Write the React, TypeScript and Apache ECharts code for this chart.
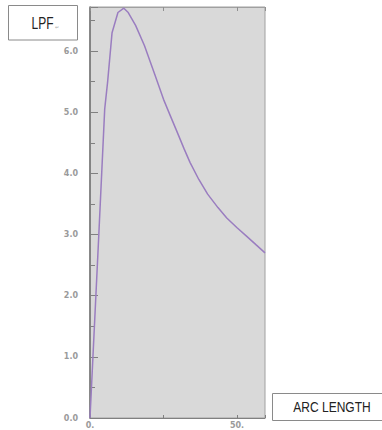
import React, { useEffect, useRef } from "react";
import * as echarts from "echarts";

const arcLength = [0, 1, 3, 5, 6, 7.5, 9.5, 11.5, 13, 15.5, 18.5, 22, 25, 27.5, 29.5, 32, 34, 37, 40, 43.5, 46.5, 50, 53.3, 56.5, 59.5];
const lpf = [0, 1.0, 3.0, 5.05, 5.5, 6.3, 6.63, 6.7, 6.63, 6.42, 6.09, 5.62, 5.21, 4.92, 4.69, 4.4, 4.18, 3.9, 3.66, 3.44, 3.27, 3.11, 2.97, 2.83, 2.7];
const yTickLabels = ["0.0", "1.0", "2.0", "3.0", "4.0", "5.0", "6.0"];
const xTickLabels: Record<number, string> = { 0: "0.", 50: "50." };

export default function App() {
  const ref = useRef<HTMLDivElement>(null);
  useEffect(() => {
    if (!ref.current) return;
    const chart = echarts.init(ref.current, null, { renderer: "svg" });
    const labelStyle = { color: "#9a9a9a", fontSize: 8, fontWeight: "bold" as const, fontFamily: "DejaVu Sans" };
    chart.setOption({
      animation: false,
      grid: {
        left: 90, top: 7, right: 117, bottom: 12,
        show: true, backgroundColor: "#d9d9d9", borderColor: "#a0a0a0", borderWidth: 1,
      },
      xAxis: [
        {
          type: "value", min: 0, max: 59.5, interval: 25, position: "bottom",
          axisLine: { show: true, lineStyle: { color: "#808080", width: 1 } },
          axisTick: { show: true, inside: true, length: 3, lineStyle: { color: "#808080" } },
          splitLine: { show: false },
          axisLabel: {
            ...labelStyle, margin: 3,
            formatter: (v: number) => xTickLabels[v] ?? "",
          },
        },
        {
          type: "value", min: 0, max: 59.5, interval: 25, position: "top",
          axisLine: { show: true, lineStyle: { color: "#a0a0a0", width: 1 } },
          axisTick: { show: true, inside: true, length: 4, lineStyle: { color: "#909090" } },
          splitLine: { show: false },
          axisLabel: { show: false },
        },
      ],
      yAxis: {
        type: "value", min: 0, max: 6.72, interval: 1,
        axisLine: { show: true, lineStyle: { color: "#707070", width: 1.5 } },
        axisTick: { show: true, inside: true, length: 8, lineStyle: { color: "#808080" } },
        minorTick: { show: true, splitNumber: 2, length: 5, lineStyle: { color: "#808080" } },
        splitLine: { show: false },
        axisLabel: {
          ...labelStyle, margin: 12,
          formatter: (v: number) => {
            const i = Math.round(v);
            return Math.abs(v - i) < 1e-6 && yTickLabels[i] ? yTickLabels[i] : "";
          },
        },
      },
      series: [
        {
          type: "line", xAxisIndex: 0,
          data: arcLength.map((x, i) => [x, lpf[i]]),
          showSymbol: false, symbol: "none",
          lineStyle: { color: "#9a7dc0", width: 1.5 },
          clip: true,
        },
      ],
      graphic: [
        {
          type: "rect", shape: { x: 8.5, y: 5.5, width: 69, height: 34.5 },
          style: { fill: "#ffffff", stroke: "#8a8a8a", lineWidth: 1 },
        },
        {
          type: "text", x: 42.5, y: 23, scaleY: 1.3,
          style: { text: "LPF", fill: "#222", fontSize: 12, fontFamily: "Liberation Sans", align: "center", verticalAlign: "middle" },
        },
        {
          type: "text", x: 57, y: 26.5,
          style: { text: "↵", fill: "#aaa", fontSize: 5, fontFamily: "DejaVu Sans", align: "center", verticalAlign: "middle" },
        },
        {
          type: "rect", shape: { x: 272.5, y: 393.5, width: 112, height: 27 },
          style: { fill: "#ffffff", stroke: "#8a8a8a", lineWidth: 1 },
        },
        {
          type: "text", x: 332, y: 407.5, scaleY: 1.15,
          style: { text: "ARC LENGTH", fill: "#222", fontSize: 12, fontFamily: "Liberation Sans", align: "center", verticalAlign: "middle" },
        },
      ],
    });
    return () => chart.dispose();
  }, []);
  return <div ref={ref} style={{ width: 382, height: 430, position: "absolute", left: 0, top: 0 }} />;
}
